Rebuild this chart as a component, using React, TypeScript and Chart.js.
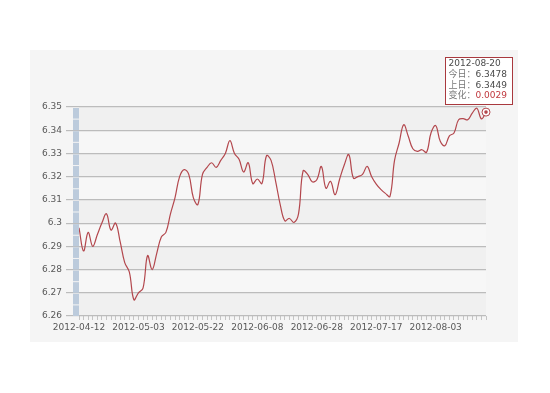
import React, { useEffect, useRef } from "react";
import { Chart, registerables } from "chart.js";

Chart.register(...registerables);

const DATES: string[] = [
  "2012-04-12", "2012-04-13", "2012-04-16", "2012-04-17", "2012-04-18", "2012-04-19", "2012-04-20",
  "2012-04-23", "2012-04-24", "2012-04-25", "2012-04-26", "2012-04-27", "2012-05-02", "2012-05-03",
  "2012-05-04", "2012-05-07", "2012-05-08", "2012-05-09", "2012-05-10", "2012-05-11", "2012-05-14",
  "2012-05-15", "2012-05-16", "2012-05-17", "2012-05-18", "2012-05-21", "2012-05-22", "2012-05-23",
  "2012-05-24", "2012-05-25", "2012-05-28", "2012-05-29", "2012-05-30", "2012-05-31", "2012-06-01",
  "2012-06-04", "2012-06-05", "2012-06-06", "2012-06-07", "2012-06-08", "2012-06-11", "2012-06-12",
  "2012-06-13", "2012-06-14", "2012-06-15", "2012-06-18", "2012-06-19", "2012-06-20", "2012-06-21",
  "2012-06-25", "2012-06-26", "2012-06-27", "2012-06-28", "2012-06-29", "2012-07-02", "2012-07-03",
  "2012-07-04", "2012-07-05", "2012-07-06", "2012-07-09", "2012-07-10", "2012-07-11", "2012-07-12",
  "2012-07-13", "2012-07-16", "2012-07-17", "2012-07-18", "2012-07-19", "2012-07-20", "2012-07-23",
  "2012-07-24", "2012-07-25", "2012-07-26", "2012-07-27", "2012-07-30", "2012-07-31", "2012-08-01",
  "2012-08-02", "2012-08-03", "2012-08-06", "2012-08-07", "2012-08-08", "2012-08-09", "2012-08-10",
  "2012-08-13", "2012-08-14", "2012-08-15", "2012-08-16", "2012-08-17", "2012-08-20",
];

const RATES: number[] = [
  6.298, 6.288, 6.296, 6.29, 6.295, 6.3, 6.304, 6.297, 6.3, 6.292,
  6.283, 6.279, 6.267, 6.27, 6.272, 6.286, 6.28, 6.287, 6.294, 6.296,
  6.304, 6.311, 6.32, 6.323, 6.321, 6.311, 6.308, 6.321, 6.324, 6.326,
  6.324, 6.327, 6.33, 6.3355, 6.33, 6.3275, 6.322, 6.326, 6.317, 6.319,
  6.317, 6.329, 6.327, 6.318, 6.308, 6.301, 6.302, 6.3003, 6.304, 6.3225,
  6.321, 6.3178, 6.3187, 6.3244, 6.315, 6.318, 6.3122, 6.319, 6.325, 6.3295,
  6.3194, 6.32, 6.321, 6.3244, 6.32, 6.3168, 6.3145, 6.3128, 6.3115, 6.327,
  6.3345, 6.3424, 6.3374, 6.332, 6.3309, 6.3316, 6.3305, 6.339, 6.342, 6.3352,
  6.3333, 6.3376, 6.3388, 6.3445, 6.345, 6.3445, 6.3474, 6.3495, 6.3449, 6.3478,
];

const TICK_LABELS: string[] = [
  "2012-04-12", "2012-05-03", "2012-05-22", "2012-06-08", "2012-06-28", "2012-07-17", "2012-08-03",
];

const Y_MIN = 6.26;
const Y_MAX = 6.35;
const Y_STEP = 0.01;

const TIP_LABELS: string[] = ["今日：", "上日：", "变化："];

const LINE_COLOR = "#b3474d";
const FONT_FAMILY = "'DejaVu Sans', 'Noto Sans CJK SC', sans-serif";

const decorPlugin = {
  id: "decor",
  beforeDraw(chart: any) {
    const { ctx, chartArea } = chart;
    const y = chart.scales.y;
    ctx.save();
    ctx.fillStyle = "#f5f5f5";
    ctx.fillRect(30, 50, 488, 292);
    let k = 0;
    for (let v = Y_MAX; v > Y_MIN + 1e-9; v -= Y_STEP) {
      const top = y.getPixelForValue(v);
      const bot = y.getPixelForValue(v - Y_STEP);
      ctx.fillStyle = k % 2 === 0 ? "#f0f0f0" : "#f7f7f7";
      ctx.fillRect(chartArea.left, top, chartArea.right - chartArea.left, bot - top);
      k++;
    }
    ctx.restore();
  },
  afterDraw(chart: any) {
    const { ctx, chartArea } = chart;
    const y = chart.scales.y;
    ctx.save();
    const half = Y_STEP / 2;
    for (let v = Y_MIN; v < Y_MAX - 1e-9; v += half) {
      const p1 = y.getPixelForValue(v);
      const p2 = y.getPixelForValue(v + half);
      ctx.fillStyle = "#bccbdc";
      ctx.fillRect(chartArea.left - 6, p2 + 1, 6, p1 - p2 - 1);
    }
    const meta = chart.getDatasetMeta(0);
    const n = RATES.length;
    const pt = meta.data[n - 1];
    ctx.beginPath();
    ctx.arc(pt.x, pt.y, 4, 0, Math.PI * 2);
    ctx.fillStyle = "#ffffff";
    ctx.fill();
    ctx.lineWidth = 1;
    ctx.strokeStyle = LINE_COLOR;
    ctx.stroke();
    ctx.beginPath();
    ctx.arc(pt.x, pt.y, 1.8, 0, Math.PI * 2);
    ctx.fillStyle = LINE_COLOR;
    ctx.fill();
    const bx = Math.round(pt.x - 41) + 0.5;
    const by = Math.round(pt.y - 55) + 0.5;
    const bw = 67;
    const bh = 47;
    ctx.fillStyle = "rgba(255,255,255,0.95)";
    ctx.fillRect(bx, by, bw, bh);
    ctx.strokeStyle = "#a9393e";
    ctx.lineWidth = 1;
    ctx.strokeRect(bx, by, bw, bh);
    ctx.font = "9px " + FONT_FAMILY;
    ctx.textBaseline = "middle";
    ctx.textAlign = "left";
    const today = RATES[n - 1];
    const prev = RATES[n - 2];
    const change = today - prev;
    const tx = bx + 3;
    ctx.fillStyle = "#4a4a4a";
    ctx.fillText(DATES[n - 1], tx, by + 6.5);
    const rows: [string, string, string][] = [
      [TIP_LABELS[0], today.toFixed(4), "#4a4a4a"],
      [TIP_LABELS[1], prev.toFixed(4), "#4a4a4a"],
      [TIP_LABELS[2], change.toFixed(4), "#c0393e"],
    ];
    rows.forEach((r, i) => {
      const ry = by + 17.2 + i * 10.6;
      ctx.fillStyle = "#777777";
      ctx.fillText(r[0], tx, ry);
      const w = ctx.measureText(r[0]).width;
      ctx.fillStyle = r[2];
      ctx.fillText(r[1], tx + w, ry);
    });
    ctx.restore();
  },
};

export default function App() {
  const ref = useRef<HTMLCanvasElement | null>(null);

  useEffect(() => {
    if (!ref.current) return;
    const chart = new Chart(ref.current, {
      type: "line",
      data: {
        labels: DATES,
        datasets: [
          {
            data: RATES,
            borderColor: LINE_COLOR,
            borderWidth: 1.2,
            pointRadius: 0,
            tension: 0.4,
            fill: false,
          },
        ],
      },
      options: {
        responsive: false,
        animation: false,
        layout: { padding: { left: 0, right: 64, top: 107, bottom: 0 } },
        plugins: {
          legend: { display: false },
          tooltip: { enabled: false },
          title: { display: false },
        },
        scales: {
          x: {
            type: "category",
            offset: false,
            afterFit(scale: any) {
              scale.height = 77;
            },
            grid: {
              display: true,
              drawOnChartArea: false,
              drawTicks: true,
              tickLength: 4,
              color: "#c4c4c4",
            },
            border: { display: false },
            ticks: {
              autoSkip: false,
              maxRotation: 0,
              minRotation: 0,
              padding: 2,
              color: "#585858",
              font: { family: FONT_FAMILY, size: 9 },
              callback(this: any, val: any) {
                const lab = this.getLabelForValue(val);
                return TICK_LABELS.includes(lab) ? lab : "";
              },
            },
          },
          y: {
            min: Y_MIN,
            max: Y_MAX,
            afterFit(scale: any) {
              scale.width = 79;
            },
            grid: {
              color: "#bcbcbc",
              lineWidth: 1.2,
              tickLength: 13,
            },
            border: { display: false },
            ticks: {
              stepSize: Y_STEP,
              padding: 4,
              color: "#585858",
              font: { family: FONT_FAMILY, size: 9 },
              callback(val: any) {
                return String(Number(Number(val).toFixed(2)));
              },
            },
          },
        },
      },
      plugins: [decorPlugin],
    });
    return () => chart.destroy();
  }, []);

  return (
    <div style={{ position: "absolute", left: 0, top: 0, width: 550, height: 393, background: "#ffffff" }}>
      <canvas ref={ref} width={550} height={393} style={{ display: "block" }} />
    </div>
  );
}
